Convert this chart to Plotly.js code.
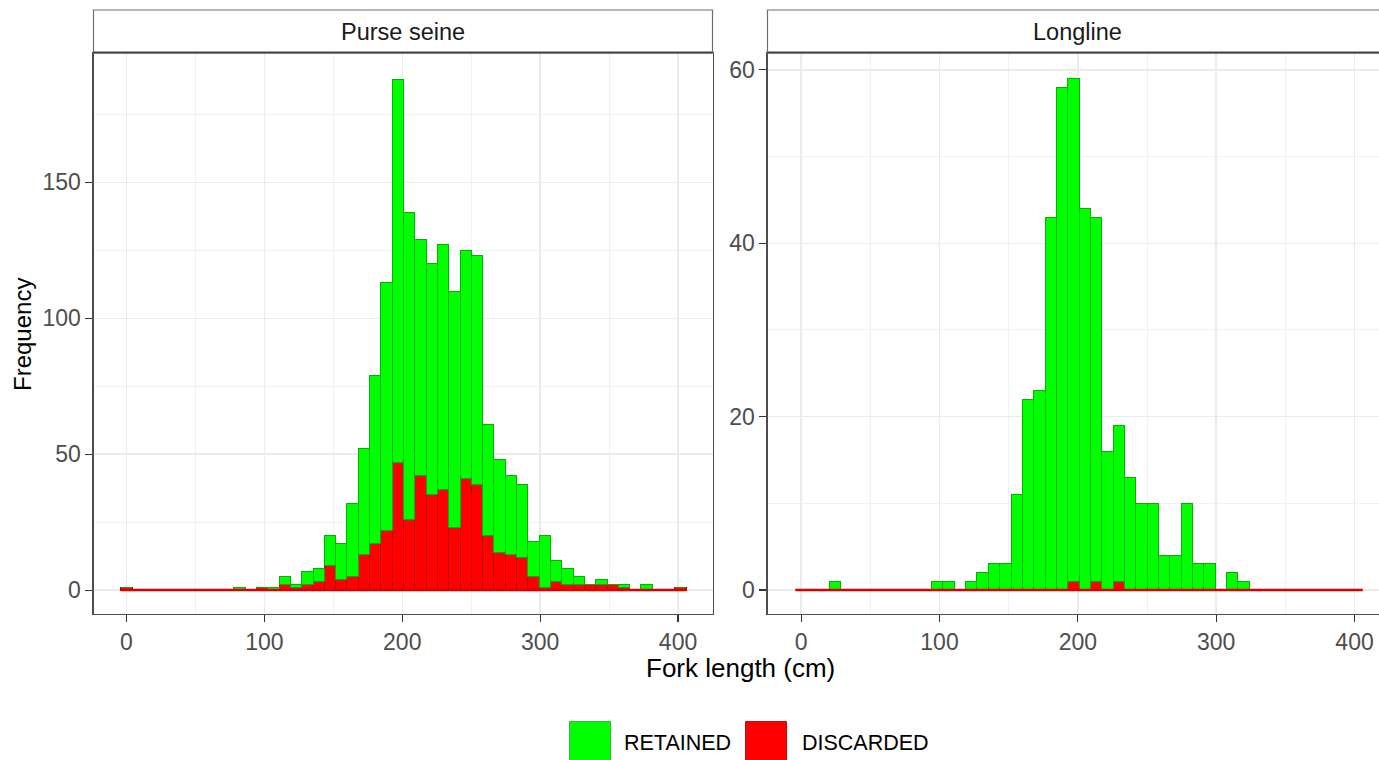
<!DOCTYPE html>
<html>
<head>
<meta charset="utf-8">
<script src="https://cdn.plot.ly/plotly-3.0.1.min.js"></script>
<style>
  html, body { margin: 0; padding: 0; background: #ffffff; overflow: hidden; }
  #chart { width: 1388px; height: 760px; }
</style>
</head>
<body>
<div id="chart"></div>
<script>
// ---- data ----
const gearLabels = ['Purse seine', 'Longline'];
const statusLabels = ['RETAINED', 'DISCARDED'];
const xAxisTitle = 'Fork length (cm)';
const yAxisTitle = 'Frequency';

// histogram bins: first bin centre and bin width (cm)
const lengthBinStart = 0;
const lengthBinWidth = 8.2;

// counts per bin (50 bins)
const purseRetained  = [0,0,0,0,0,0,0,0,0,0, 1,0,0,1,3,1,5,5,11,13, 27,39,62,91,141,113,87,85,90,87, 84,84,41,34,29,27,13,19,8,6, 3,0,2,0,1,0,2,0,0,0];
const purseDiscarded = [1,0,0,0,0,0,0,0,0,0, 0,0,1,0,2,1,2,3,9,4, 5,13,17,22,47,26,42,35,37,23, 41,39,20,14,13,12,5,1,3,2, 2,2,2,2,1,0,0,0,0,1];
const longRetained   = [0,0,0,1,0,0,0,0,0,0, 0,0,1,1,0,1,2,3,3,11, 22,23,43,58,58,44,42,16,18,13, 10,10,4,4,10,3,3,0,2,1, 0,0,0,0,0,0,0,0,0,0];
const longDiscarded  = [0,0,0,0,0,0,0,0,0,0, 0,0,0,0,0,0,0,0,0,0, 0,0,0,0,1,0,1,0,1,0, 0,0,0,0,0,0,0,0,0,0, 0,0,0,0,0,0,0,0,0,0];

const xTicks = [0, 100, 200, 300, 400];
const purseYTicks = [0, 50, 100, 150];
const longYTicks = [0, 20, 40, 60];

// ---- styling ----
const W = 1388, H = 760;
const FONT = 'Liberation Sans, Arial, Helvetica, sans-serif';
const GREEN = '#00FF00', GREEN_LINE = '#00B400';
const RED = '#FF0000', RED_LINE = '#C00000';
const BASE_RED = '#DD0000';

const px = v => v / W;
const py = v => 1 - v / H;

function binEdges(n) {
  return [lengthBinStart - lengthBinWidth / 2, lengthBinStart + (n - 1) * lengthBinWidth + lengthBinWidth / 2];
}

function barTrace(y, name, fill, line, xa, ya) {
  return {
    type: 'bar', name: name, y: y, x0: lengthBinStart, dx: lengthBinWidth,
    width: lengthBinWidth, xaxis: xa, yaxis: ya,
    marker: { color: fill, line: { color: line, width: 1 } },
    showlegend: false, hoverinfo: 'skip'
  };
}
function baseLine(n, xa, ya) {
  const e = binEdges(n);
  return {
    type: 'scatter', mode: 'lines', x: e, y: [0, 0], xaxis: xa, yaxis: ya,
    line: { color: BASE_RED, width: 2.5 }, showlegend: false, hoverinfo: 'skip'
  };
}

const traces = [
  barTrace(purseDiscarded, statusLabels[1], RED, RED_LINE, 'x', 'y'),
  barTrace(purseRetained, statusLabels[0], GREEN, GREEN_LINE, 'x', 'y'),
  baseLine(purseRetained.length, 'x', 'y'),
  barTrace(longDiscarded, statusLabels[1], RED, RED_LINE, 'x2', 'y2'),
  barTrace(longRetained, statusLabels[0], GREEN, GREEN_LINE, 'x2', 'y2'),
  baseLine(longRetained.length, 'x2', 'y2')
];

const panelTop = 53, panelBottom = 614;
const p1 = [93.5, 712.5], p2 = [767.5, 1386.5];

function xAxis(domain, range, anchor) {
  return {
    domain: [px(domain[0]), px(domain[1])], range: range, anchor: anchor,
    tickmode: 'array', tickvals: xTicks, ticktext: xTicks.map(String),
    ticks: 'outside', ticklen: 7, tickwidth: 1.1, tickcolor: '#333333',
    tickfont: { family: FONT, size: 23, color: '#4D4D4D' },
    showgrid: true, gridcolor: '#EBEBEB', gridwidth: 1.4,
    minor: { dtick: 50, tick0: 0, showgrid: true, gridcolor: '#EFEFEF', gridwidth: 0.9, ticks: '' },
    showline: true, mirror: true, linecolor: '#4D4D4D', linewidth: 1.1,
    zeroline: false, automargin: false, fixedrange: true
  };
}
function yAxis(range, ticks, minorStep, anchor) {
  return {
    domain: [py(panelBottom), py(panelTop)], range: range, anchor: anchor,
    tickmode: 'array', tickvals: ticks, ticktext: ticks.map(String),
    ticks: 'outside', ticklen: 7, tickwidth: 1.1, tickcolor: '#333333',
    tickfont: { family: FONT, size: 23, color: '#4D4D4D' },
    showgrid: true, gridcolor: '#EBEBEB', gridwidth: 1.4,
    minor: { dtick: minorStep, tick0: 0, showgrid: true, gridcolor: '#EFEFEF', gridwidth: 0.9, ticks: '' },
    showline: true, mirror: true, linecolor: '#4D4D4D', linewidth: 1.1,
    zeroline: false, automargin: false, fixedrange: true
  };
}

function strip(d) {
  return [
    { type: 'rect', xref: 'paper', yref: 'paper', x0: px(d[0]), x1: px(d[1]), y0: py(panelTop), y1: py(10),
      fillcolor: '#FFFFFF', line: { color: '#6E6E6E', width: 1.2 } },
    { type: 'line', xref: 'paper', yref: 'paper', x0: px(d[0]), x1: px(d[1]), y0: py(panelTop - 0.5), y1: py(panelTop - 0.5),
      line: { color: '#444444', width: 2 } }
  ];
}

const shapes = [].concat(strip(p1), strip(p2), [
  { type: 'rect', xref: 'paper', yref: 'paper', x0: px(569.5), x1: px(610.5), y0: py(762.5), y1: py(721.5),
    fillcolor: GREEN, line: { color: '#2DBF2D', width: 1 } },
  { type: 'rect', xref: 'paper', yref: 'paper', x0: px(745.5), x1: px(786.5), y0: py(762.5), y1: py(721.5),
    fillcolor: RED, line: { color: '#C21010', width: 1 } }
]);

const annotations = [
  { text: gearLabels[0], xref: 'paper', yref: 'paper', x: px((p1[0] + p1[1]) / 2), y: py(31.5),
    showarrow: false, xanchor: 'center', yanchor: 'middle', font: { family: FONT, size: 23.5, color: '#1A1A1A' } },
  { text: gearLabels[1], xref: 'paper', yref: 'paper', x: px((p2[0] + p2[1]) / 2), y: py(31.5),
    showarrow: false, xanchor: 'center', yanchor: 'middle', font: { family: FONT, size: 23.5, color: '#1A1A1A' } },
  { text: xAxisTitle, xref: 'paper', yref: 'paper', x: px(740), y: py(668),
    showarrow: false, xanchor: 'center', yanchor: 'middle', font: { family: FONT, size: 26, color: '#000000' } },
  { text: yAxisTitle, xref: 'paper', yref: 'paper', x: px(22), y: py(335), textangle: -90,
    showarrow: false, xanchor: 'center', yanchor: 'middle', font: { family: FONT, size: 24, color: '#000000' } },
  { text: statusLabels[0], xref: 'paper', yref: 'paper', x: px(621.5), y: py(743),
    showarrow: false, xanchor: 'left', yanchor: 'middle', font: { family: FONT, size: 21.5, color: '#000000' } },
  { text: statusLabels[1], xref: 'paper', yref: 'paper', x: px(799.5), y: py(743),
    showarrow: false, xanchor: 'left', yanchor: 'middle', font: { family: FONT, size: 21.5, color: '#000000' } }
];

const layout = {
  width: W, height: H,
  margin: { l: 0, r: 0, t: 0, b: 0, pad: 0 },
  paper_bgcolor: '#FFFFFF', plot_bgcolor: '#FFFFFF',
  barmode: 'stack', bargap: 0,
  showlegend: false,
  xaxis: xAxis(p1, [-23.9, 425.0], 'y'),
  yaxis: yAxis([-8.8, 197.6], purseYTicks, 25, 'x'),
  xaxis2: xAxis(p2, [-24.3, 423.1], 'y2'),
  yaxis2: yAxis([-2.77, 61.95], longYTicks, 10, 'x2'),
  shapes: shapes,
  annotations: annotations,
  font: { family: FONT }
};

Plotly.newPlot('chart', traces, layout, { staticPlot: true, displayModeBar: false });
</script>
</body>
</html>
